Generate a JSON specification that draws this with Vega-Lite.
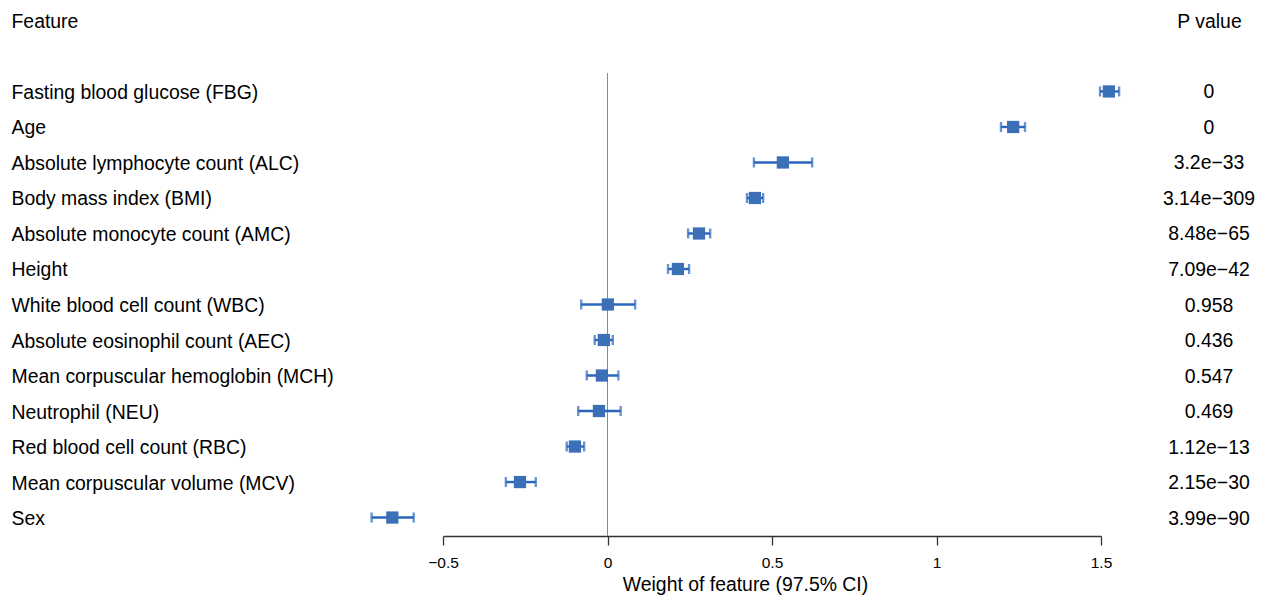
{
  "$schema": "https://vega.github.io/schema/vega-lite/v6.json",
  "background": "white",
  "padding": {"left": 11, "top": 11, "right": 5, "bottom": 5},
  "spacing": 20,
  "bounds": "flush",
  "config": {
    "view": {"stroke": null},
    "font": "Liberation Sans",
    "axis": {"grid": false, "labelColor": "black", "titleColor": "black", "titleFontWeight": "normal"},
    "text": {"font": "Liberation Sans"}
  },
  "data": {
    "values": [
      {"feature": "Fasting blood glucose (FBG)", "est": 1.524, "lo": 1.497, "hi": 1.555, "p": "0"},
      {"feature": "Age", "est": 1.233, "lo": 1.196, "hi": 1.269, "p": "0"},
      {"feature": "Absolute lymphocyte count (ALC)", "est": 0.533, "lo": 0.445, "hi": 0.622, "p": "3.2e−33"},
      {"feature": "Body mass index (BMI)", "est": 0.448, "lo": 0.424, "hi": 0.473, "p": "3.14e−309"},
      {"feature": "Absolute monocyte count (AMC)", "est": 0.278, "lo": 0.245, "hi": 0.312, "p": "8.48e−65"},
      {"feature": "Height", "est": 0.214, "lo": 0.184, "hi": 0.248, "p": "7.09e−42"},
      {"feature": "White blood cell count (WBC)", "est": 0.001, "lo": -0.080, "hi": 0.084, "p": "0.958"},
      {"feature": "Absolute eosinophil count (AEC)", "est": -0.011, "lo": -0.039, "hi": 0.016, "p": "0.436"},
      {"feature": "Mean corpuscular hemoglobin (MCH)", "est": -0.017, "lo": -0.063, "hi": 0.033, "p": "0.547"},
      {"feature": "Neutrophil (NEU)", "est": -0.026, "lo": -0.089, "hi": 0.040, "p": "0.469"},
      {"feature": "Red blood cell count (RBC)", "est": -0.099, "lo": -0.124, "hi": -0.071, "p": "1.12e−13"},
      {"feature": "Mean corpuscular volume (MCV)", "est": -0.266, "lo": -0.309, "hi": -0.218, "p": "2.15e−30"},
      {"feature": "Sex", "est": -0.654, "lo": -0.717, "hi": -0.589, "p": "3.99e−90"}
    ]
  },
  "hconcat": [
    {
      "width": 658,
      "height": 463,
      "encoding": {
        "y": {
          "field": "feature", "type": "nominal", "sort": null,
          "scale": {"type": "point", "padding": 0.52},
          "axis": {
            "orient": "left", "labelAlign": "left", "labelPadding": 432, "labelLimit": 600,
            "labelFontSize": 19.4, "labelOffset": 1, "ticks": false, "tickSize": 0, "domain": false,
            "title": "Feature", "titleAngle": 0, "titleX": -432, "titleY": -52,
            "titleAlign": "left", "titleBaseline": "middle", "titleFontSize": 19.4
          }
        }
      },
      "layer": [
        {
          "mark": {"type": "rule", "color": "#8a8a8a", "strokeWidth": 1},
          "encoding": {"x": {"datum": 0, "type": "quantitative"}, "y": null}
        },
        {
          "mark": {"type": "rule", "color": "#2a66bd", "strokeWidth": 2.4},
          "encoding": {
            "x": {
              "field": "lo", "type": "quantitative",
              "scale": {"domain": [-0.5, 1.5], "nice": false, "zero": false},
              "axis": {
                "values": [-0.5, 0, 0.5, 1, 1.5], "format": "~g",
                "labelFlush": false, "labelOverlap": false,
                "domain": true, "domainColor": "#333333", "domainWidth": 1.3,
                "tickColor": "#333333", "tickWidth": 1.3, "tickSize": 9,
                "labelFontSize": 15.5, "labelPadding": 10,
                "title": "Weight of feature (97.5% CI)", "titleFontSize": 19.4,
                "titleX": 302, "titleY": 48, "titleAlign": "center", "titleBaseline": "middle"
              }
            },
            "x2": {"field": "hi"}
          }
        },
        {
          "mark": {"type": "tick", "color": "#2a66bd", "thickness": 2.4, "size": 10, "orient": "vertical"},
          "encoding": {"x": {"field": "lo", "type": "quantitative"}}
        },
        {
          "mark": {"type": "tick", "color": "#2a66bd", "thickness": 2.4, "size": 10, "orient": "vertical"},
          "encoding": {"x": {"field": "hi", "type": "quantitative"}}
        },
        {
          "mark": {"type": "square", "filled": true, "size": 150, "color": "#3b6fb6", "opacity": 1},
          "encoding": {"x": {"field": "est", "type": "quantitative"}}
        }
      ]
    },
    {
      "width": 176,
      "height": 463,
      "mark": {"type": "text", "fontSize": 19.4, "color": "black", "align": "center", "baseline": "middle", "dy": 1},
      "encoding": {
        "y": {
          "field": "feature", "type": "nominal", "sort": null,
          "scale": {"type": "point", "padding": 0.52},
          "axis": {
            "orient": "left", "labels": false, "ticks": false, "domain": false,
            "title": "P value", "titleAngle": 0, "titleX": 88, "titleY": -52,
            "titleAlign": "center", "titleBaseline": "middle", "titleFontSize": 19.4
          }
        },
        "text": {"field": "p", "type": "nominal"}
      }
    }
  ]
}
